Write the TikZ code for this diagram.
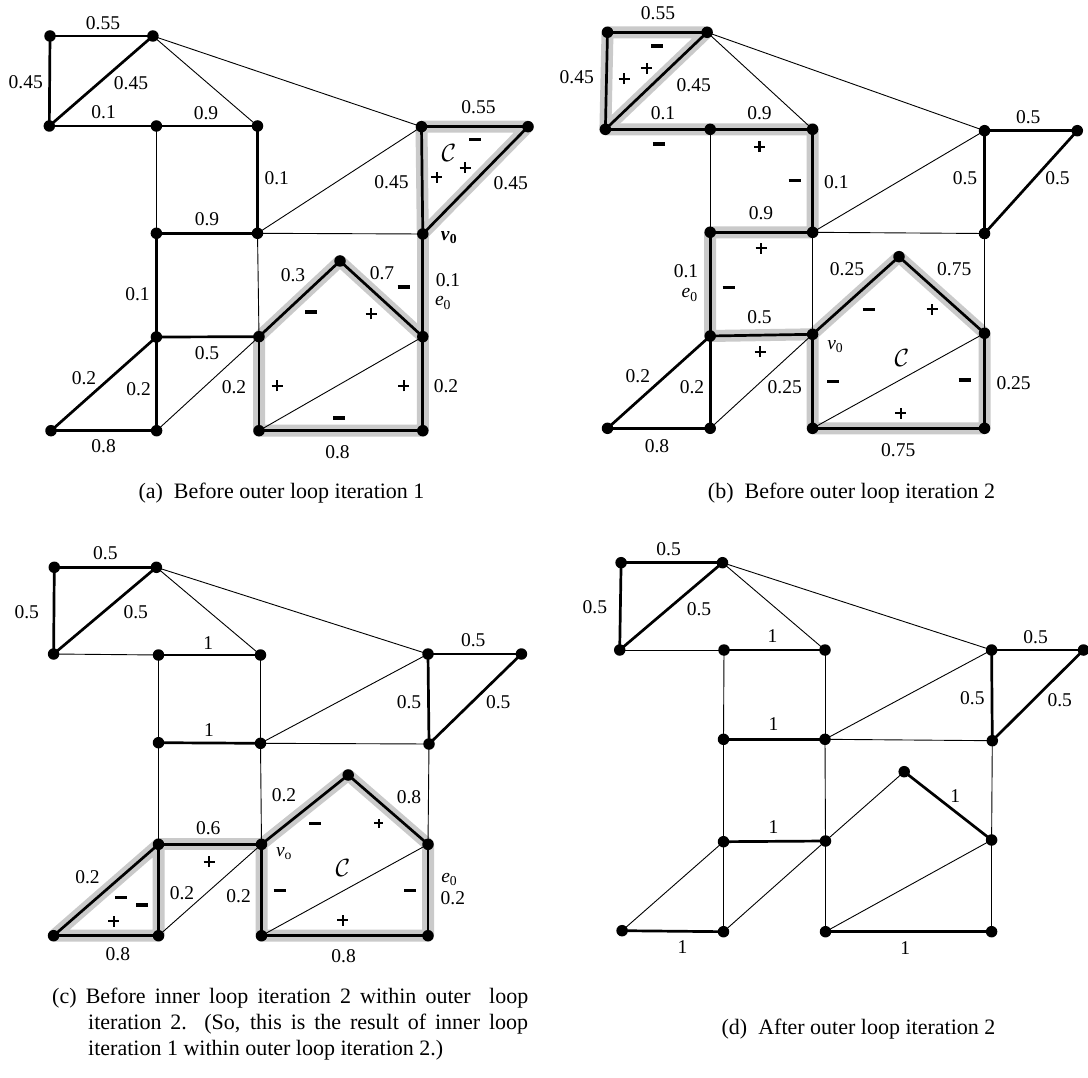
\documentclass[tikz,border=0pt]{standalone}
\usepackage{fontspec}
\setmainfont{Liberation Serif}
\pgfdeclarelayer{bglayer}
\pgfdeclarelayer{halolayer}
\pgfdeclarelayer{edgelayer}
\pgfsetlayers{bglayer,halolayer,edgelayer,main}
\definecolor{halogray}{RGB}{202,202,202}
\newcounter{lbc}
\newcommand\lb[3][lbl]{\stepcounter{lbc}\node[#1] (lb\arabic{lbc}) at (#2) {#3};}
\newcommand\myminus{\rule{12pt}{3.4pt}}
\newcommand\myplus{\rlap{\rule[4.4pt]{11pt}{2.2pt}}\hspace*{4.4pt}\rule{2.2pt}{11pt}\hspace*{4.4pt}}
\newcommand\smallplus{\rlap{\rule[3.6pt]{9pt}{1.8pt}}\hspace*{3.6pt}\rule{1.8pt}{9pt}\hspace*{3.6pt}}
\newcommand\vtx[3]{\node[dot] (#1) at (#2,#3) {};}
\tikzset{
  dot/.style={circle,fill=black,inner sep=0pt,minimum size=11.5pt},
  thinE/.style={line width=0.9pt},
  thickE/.style={line width=2.7pt},
  haloE/.style={line width=12pt,color=halogray,line cap=round,line join=round},
  lbl/.style={inner sep=0pt,font=\fontsize{19.5}{22}\selectfont},
  sgn/.style={inner sep=0pt},
  calC/.style={inner sep=0pt,font=\fontsize{24}{26}\selectfont},
  capt/.style={inner sep=0pt,font=\fontsize{22}{26}\selectfont}
}
\begin{document}
\begin{tikzpicture}[x=1pt,y=-1pt]
\begin{pgfonlayer}{bglayer}
\fill[white] (0,0) rectangle (1088,1078);
\end{pgfonlayer}
\useasboundingbox (0,0) rectangle (1088,1078);
% ================= panel (a) =================
\vtx{aTL}{50}{36} \vtx{aT}{152.9}{36} \vtx{aL}{49.3}{126} \vtx{aM1}{156.4}{126}
\vtx{aM2}{257.5}{126} \vtx{aR1}{421.5}{126.7} \vtx{aR2}{528}{126.7}
\vtx{aN1}{156.4}{233.3} \vtx{aN2}{257.5}{233.3} \vtx{aR3}{422.8}{234}
\vtx{aAp}{340}{261} \vtx{aP1}{156.4}{337} \vtx{aP2}{259}{336.7} \vtx{aP3}{422.8}{336.7}
\vtx{aB1}{51}{430.7} \vtx{aB2}{156.6}{430.7} \vtx{aB3}{259}{430.7} \vtx{aB4}{422.8}{430.7}
\begin{pgfonlayer}{halolayer}
\draw[haloE] (aR1.center)--(aR2.center)--(aR3.center)--cycle;
\draw[haloE] (aR3.center)--(aP3.center);
\draw[haloE] (aP2.center)--(aAp.center)--(aP3.center)--(aB4.center)--(aB3.center)--cycle;
\end{pgfonlayer}
\begin{pgfonlayer}{edgelayer}
\foreach \u/\v in {TL/T,TL/L,L/T,L/M1,M1/M2,M2/N2,N1/N2,N1/P1,P1/P2,P1/B1,P1/B2,B1/B2,R1/R2,R1/R3,R2/R3,R3/P3,P2/Ap,Ap/P3,P2/B3,P3/B4,B3/B4}
  \draw[thickE] (a\u.center) -- (a\v.center);
\foreach \u/\v in {T/M2,T/R1,M1/N1,N2/R1,N2/R3,N2/P2,B2/P2,B3/P3}
  \draw[thinE] (a\u.center) -- (a\v.center);
\end{pgfonlayer}
\lb{103,22.7}{0.55} \lb{25.7,81.7}{0.45} \lb{131,83}{0.45} \lb{103.6,111.7}{0.1}
\lb{206,112.7}{0.9} \lb{276.8,178.3}{0.1} \lb{207,219}{0.9} \lb{137.5,294}{0.1}
\lb{207,352.7}{0.5} \lb{84,377.7}{0.2} \lb{138.6,389}{0.2} \lb{103.6,446}{0.8}
\lb{478.5,107}{0.55} \lb{391.5,182}{0.45} \lb{510.7,183.5}{0.45}
\lb[calC]{449,153}{$\mathcal{C}$}
\lb[sgn]{475,139.3}{\myminus} \lb[sgn]{465,167.7}{\myplus} \lb[sgn]{436.7,177.3}{\myplus}
\lb{449,238}{\textbf{\textit{v}\textsubscript{0}}}
\lb{293,275}{0.3} \lb{382,273}{0.7} \lb[sgn]{403.6,287}{\myminus}
\lb{448,280}{0.1} \lb{443,303}{\textit{e}\textsubscript{0}}
\lb[sgn]{311,312}{\myminus} \lb[sgn]{371,314}{\myplus}
\lb{234,387}{0.2} \lb[sgn]{277,386}{\myplus} \lb[sgn]{403.6,386}{\myplus} \lb{446,386}{0.2}
\lb[sgn]{339,418}{\myminus} \lb{337.5,451.7}{0.8}
\node[capt,anchor=base] (capA) at (281.5,498) {(a)\enspace Before outer loop iteration 1};
% ================= panel (b) =================
\vtx{bTL}{607.5}{32.3} \vtx{bT}{707.1}{32.3} \vtx{bL}{605.4}{129.3} \vtx{bM1}{710.2}{129.3}
\vtx{bM2}{812.6}{129.3} \vtx{bR1}{984.5}{130.7} \vtx{bR2}{1077.3}{130.7}
\vtx{bN1}{710.2}{232.3} \vtx{bN2}{812.6}{232.3} \vtx{bR3}{984.5}{233.5}
\vtx{bAp}{899}{256.7} \vtx{bP1}{710.2}{336} \vtx{bP2}{812.6}{334.3} \vtx{bP3}{984.5}{333.3}
\vtx{bB1}{607.5}{428.3} \vtx{bB2}{710.2}{428.3} \vtx{bB3}{812.6}{428.3} \vtx{bB4}{984.5}{428.3}
\begin{pgfonlayer}{halolayer}
\draw[haloE] (bTL.center)--(bT.center)--(bL.center)--cycle;
\draw[haloE] (bL.center)--(bM1.center)--(bM2.center)--(bN2.center)--(bN1.center)--(bP1.center)--(bP2.center);
\draw[haloE] (bP2.center)--(bAp.center)--(bP3.center)--(bB4.center)--(bB3.center)--cycle;
\end{pgfonlayer}
\begin{pgfonlayer}{edgelayer}
\foreach \u/\v in {TL/T,TL/L,L/T,L/M1,M1/M2,M2/N2,N1/N2,N1/P1,P1/P2,P1/B1,P1/B2,B1/B2,R1/R2,R1/R3,R2/R3,P2/Ap,Ap/P3,P2/B3,P3/B4,B3/B4}
  \draw[thickE] (b\u.center) -- (b\v.center);
\foreach \u/\v in {T/M2,T/R1,M1/N1,N2/R1,N2/R3,N2/P2,B2/P2,B3/P3,R3/P3}
  \draw[thinE] (b\u.center) -- (b\v.center);
\end{pgfonlayer}
\lb{658,12.7}{0.55} \lb{576.7,77.3}{0.45} \lb{693.8,85}{0.45} \lb{663,112.7}{0.1}
\lb{759.5,112.7}{0.9} \lb{836.4,181.7}{0.1} \lb{761,213.3}{0.9}
\lb{1028.3,117.5}{0.5} \lb{965,178.5}{0.5} \lb{1057.5,178.5}{0.5}
\lb{686,271}{0.1} \lb{689.6,295}{\textit{e}\textsubscript{0}}
\lb{847,269.3}{0.25} \lb{954.2,269.3}{0.75} \lb{759.5,316.7}{0.5}
\lb{835.3,346.7}{\textit{v}\textsubscript{0}}
\lb{637.9,376}{0.2} \lb{692,386.7}{0.2} \lb{784.7,386.7}{0.25} \lb{1013.6,382.7}{0.25}
\lb{657,446}{0.8} \lb{898.3,450}{0.75}
\lb[sgn]{657,46}{\myminus} \lb[sgn]{646.6,68.3}{\myplus} \lb[sgn]{624,79}{\myplus}
\lb[sgn]{658.8,144}{\myminus} \lb[sgn]{759.5,146.7}{\myplus} \lb[sgn]{794.5,180.7}{\myminus}
\lb[sgn]{761,248.3}{\myplus} \lb[sgn]{728.7,287.3}{\myminus} \lb[sgn]{760.2,351.7}{\myplus}
\lb[sgn]{868.5,309.3}{\myminus} \lb[sgn]{932,309.3}{\myplus}
\lb[calC]{901.8,358.3}{$\mathcal{C}$}
\lb[sgn]{833,381.7}{\myminus} \lb[sgn]{964.7,380}{\myminus} \lb[sgn]{900.7,413.3}{\myplus}
\node[capt,anchor=base] (capB) at (851.5,498) {(b)\enspace Before outer loop iteration 2};
% ================= panel (c) =================
\vtx{cTL}{54.3}{567.3} \vtx{cT}{156.4}{567.3} \vtx{cL}{53.6}{654} \vtx{cM1}{158.5}{655}
\vtx{cM2}{260.5}{655} \vtx{cR1}{428}{654} \vtx{cR2}{521.4}{654}
\vtx{cN1}{158.5}{742.7} \vtx{cN2}{260.5}{743.3} \vtx{cR3}{429}{744}
\vtx{cAp}{348.2}{775} \vtx{cP1}{158.5}{844.3} \vtx{cP2}{261.5}{844.3} \vtx{cP3}{428}{844.3}
\vtx{cB1}{53.6}{935.7} \vtx{cB2}{158.5}{935.7} \vtx{cB3}{261.5}{935.7} \vtx{cB4}{428}{935.7}
\begin{pgfonlayer}{halolayer}
\draw[haloE] (cP1.center)--(cB1.center)--(cB2.center)--cycle;
\draw[haloE] (cP1.center)--(cP2.center);
\draw[haloE] (cP2.center)--(cAp.center)--(cP3.center)--(cB4.center)--(cB3.center)--cycle;
\end{pgfonlayer}
\begin{pgfonlayer}{edgelayer}
\foreach \u/\v in {TL/T,TL/L,L/T,M1/M2,N1/N2,R1/R2,R1/R3,R2/R3,P1/P2,P1/B1,P1/B2,B1/B2,P2/Ap,Ap/P3,P2/B3,P3/B4,B3/B4}
  \draw[thickE] (c\u.center) -- (c\v.center);
\foreach \u/\v in {L/M1,T/M2,T/R1,M1/N1,M2/N2,N1/P1,N2/R1,N2/R3,N2/P2,R3/P3,B2/P2,B3/P3}
  \draw[thinE] (c\u.center) -- (c\v.center);
\end{pgfonlayer}
\lb{105.4,553.3}{0.5} \lb{26.8,611.7}{0.5} \lb{135.7,611.7}{0.5} \lb{208.2,643.3}{1}
\lb{473.2,640}{0.5} \lb{409,701.7}{0.5} \lb{498.2,701.7}{0.5} \lb{209,730}{1}
\lb{284,795}{0.2} \lb{409,796.7}{0.8} \lb{208.2,828.3}{0.6}
\lb[sgn]{315,823.3}{\myminus}
\lb[sgn]{378.6,823.3}{\smallplus}
\lb[sgn]{209,861.7}{\myplus}
\lb{284,853.3}{\textit{v}\textsubscript{o}}
\lb[calC]{342.9,868.3}{$\mathcal{C}$}
\lb{87.5,877.3}{0.2} \lb[sgn]{121.4,897.3}{\myminus} \lb[sgn]{142,905}{\myminus}
\lb[sgn]{113.6,921}{\myplus} \lb{182,893.3}{0.2} \lb{238.6,896}{0.2}
\lb[sgn]{279.6,890.7}{\myminus} \lb[sgn]{410,890.7}{\myminus} \lb[sgn]{342.9,920}{\myplus}
\lb{449.3,879.3}{\textit{e}\textsubscript{0}} \lb{452.9,897.7}{0.2}
\lb{117.9,954.3}{0.8} \lb{343.6,956}{0.8}
\node[capt,anchor=base west] (capC1) at (52,1003) {\makebox[476pt][s]{(c) Before inner loop iteration 2 within outer\ \ loop}};
\node[capt,anchor=base west] (capC2) at (88,1029) {\makebox[440pt][s]{iteration 2. (So, this is the result of inner loop}};
\node[capt,anchor=base west] (capC3) at (88,1055) {iteration 1 within outer loop iteration 2.)};
% ================= panel (d) =================
\vtx{dTL}{621.1}{562.7} \vtx{dT}{722.5}{562.7} \vtx{dL}{619.7}{650} \vtx{dM1}{724}{650}
\vtx{dM2}{825}{650} \vtx{dR1}{991.6}{650} \vtx{dR2}{1083.5}{650}
\vtx{dN1}{723.5}{739.3} \vtx{dN2}{825}{739.3} \vtx{dR3}{992.3}{740.7}
\vtx{dAp}{904.2}{771.7} \vtx{dP1}{723.5}{841.7} \vtx{dP2}{825.5}{841} \vtx{dP3}{991.6}{840}
\vtx{dB1}{622.1}{930.7} \vtx{dB2}{723.5}{931.7} \vtx{dB3}{825.5}{931.7} \vtx{dB4}{991.6}{931.7}
\begin{pgfonlayer}{edgelayer}
\foreach \u/\v in {TL/T,TL/L,L/T,M1/M2,N1/N2,R1/R2,R1/R3,R2/R3,Ap/P3,P1/P2,B1/B2,B3/B4}
  \draw[thickE] (d\u.center) -- (d\v.center);
\foreach \u/\v in {L/M1,T/M2,T/R1,M1/N1,M2/N2,N1/P1,P1/B2,P1/B1,B2/P2,N2/R1,N2/R3,N2/P2,R3/P3,P2/Ap,P2/B3,B3/P3,P3/B4}
  \draw[thinE] (d\u.center) -- (d\v.center);
\end{pgfonlayer}
\lb{668.6,549.3}{0.5} \lb{594.9,606.7}{0.5} \lb{699,609.3}{0.5} \lb{772.4,635.7}{1}
\lb{1035.6,636.7}{0.5} \lb{972.4,698.3}{0.5} \lb{1059.7,700}{0.5}
\lb{773.5,724.3}{1} \lb{955.2,796}{1} \lb{773.5,827.3}{1}
\lb{682.6,946.7}{1} \lb{905.3,948.3}{1}
\node[capt,anchor=base] (capD) at (858.5,1034) {(d)\enspace After outer loop iteration 2};
\end{tikzpicture}
\end{document}
